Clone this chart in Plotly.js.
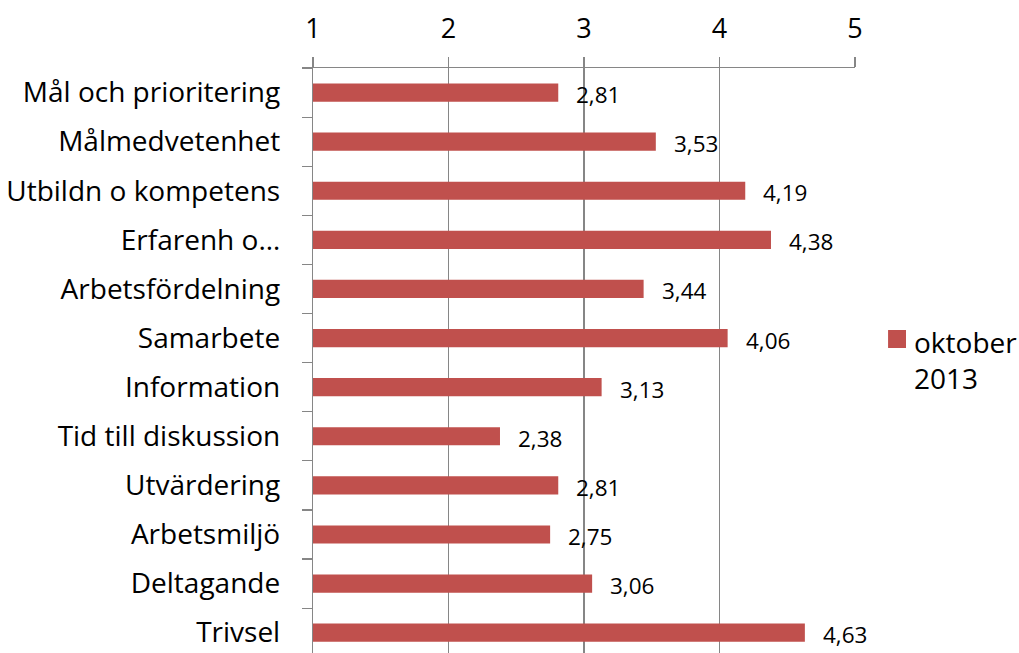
<!DOCTYPE html>
<html>
<head>
<meta charset="utf-8">
<script src="https://cdn.plot.ly/plotly-3.0.1.min.js"></script>
<style>
  html, body { margin: 0; padding: 0; background: #fff; }
  #chart { width: 1019px; height: 653px; }
</style>
</head>
<body>
<div id="chart"></div>
<script>
// ---- data ----
var categories = [
  "Mål och prioritering",
  "Målmedvetenhet",
  "Utbildn o kompetens",
  "Erfarenh o…",
  "Arbetsfördelning",
  "Samarbete",
  "Information",
  "Tid till diskussion",
  "Utvärdering",
  "Arbetsmiljö",
  "Deltagande",
  "Trivsel"
];
var values = [2.81, 3.53, 4.19, 4.38, 3.44, 4.06, 3.13, 2.38, 2.81, 2.75, 3.06, 4.63];
var valueLabels = ["2,81", "3,53", "4,19", "4,38", "3,44", "4,06", "3,13", "2,38", "2,81", "2,75", "3,06", "4,63"];
var seriesName = "oktober<br>2013";
var xTicks = [1, 2, 3, 4, 5];

var barColor = "#C0504D";
var gridColor = "#868686";
var fontFamily = "'Open Sans', sans-serif";

var trace = {
  type: "bar",
  orientation: "h",
  y: categories,
  x: values,
  marker: { color: barColor },
  width: 0.37,
  name: seriesName,
  showlegend: false,
  hoverinfo: "none"
};

var annotations = values.map(function (v, i) {
  return {
    x: v, y: categories[i], xref: "x", yref: "y",
    text: valueLabels[i], showarrow: false,
    xanchor: "left", yanchor: "middle",
    xshift: 16, yshift: -2,
    font: { family: fontFamily, size: 22.5, color: "#000" }
  };
});

// legend (manual so the square matches the reference size)
annotations.push({
  xref: "paper", yref: "paper", x: 1.106, y: 0.568,
  xanchor: "left", yanchor: "top", align: "left",
  text: seriesName, showarrow: false,
  font: { family: fontFamily, size: 28, color: "#000" }
});

var layout = {
  width: 1019, height: 653,
  margin: { l: 313, r: 164, t: 68, b: 0, pad: 0 },
  paper_bgcolor: "#fff", plot_bgcolor: "#fff",
  showlegend: false,
  font: { family: fontFamily, color: "#000" },
  xaxis: {
    side: "top",
    range: [1, 5],
    tickvals: xTicks,
    ticktext: xTicks.map(String),
    showgrid: true, gridcolor: gridColor, gridwidth: 1.2,
    zeroline: false,
    showline: true, linecolor: gridColor, linewidth: 1.2,
    ticks: "outside", ticklen: 10, tickcolor: gridColor, tickwidth: 1.2,
    tickfont: { family: fontFamily, size: 27, color: "#000" },
    ticklabelstandoff: 8,
    fixedrange: true
  },
  yaxis: {
    type: "category",
    categoryorder: "array", categoryarray: categories,
    range: [11.414, -0.5],
    showgrid: false, zeroline: false,
    showline: true, linecolor: gridColor, linewidth: 1.2,
    ticks: "outside", ticklen: 10, tickcolor: gridColor, tickwidth: 1.2,
    tickson: "boundaries",
    tickfont: { family: fontFamily, size: 28, color: "#000" },
    ticklabelstandoff: 26,
    fixedrange: true
  },
  shapes: [{
    type: "rect", xref: "paper", yref: "paper",
    x0: 1.061, x1: 1.0941, y0: 0.5214, y1: 0.5521,
    fillcolor: barColor, line: { width: 0 }
  }],
  annotations: annotations
};

Plotly.newPlot("chart", [trace], layout, { displayModeBar: false, staticPlot: true });
</script>
</body>
</html>
